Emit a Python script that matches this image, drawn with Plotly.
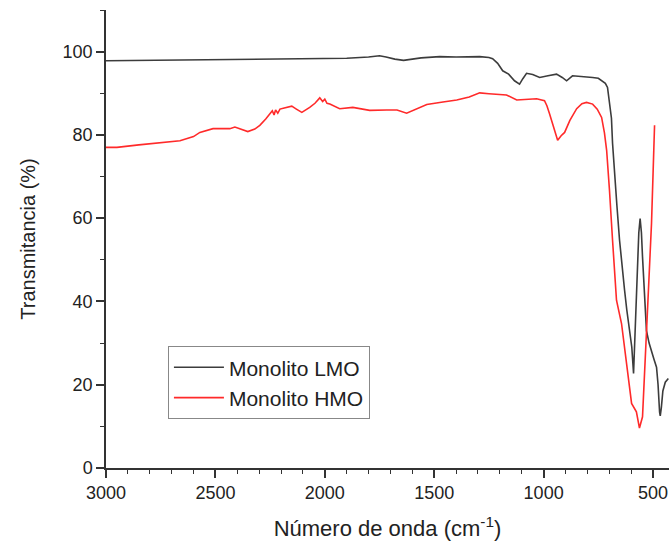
import plotly.graph_objects as go

# Monolito LMO (black)
lmo_x = [3000, 2850, 2700, 2500, 2300, 2150, 2000, 1900, 1800, 1750, 1720, 1680, 1640, 1600, 1560,
         1475, 1400, 1292, 1250, 1233, 1210, 1187, 1160, 1133, 1110, 1095, 1078, 1050, 1018, 980,
         941, 915, 895, 868, 830, 776, 750, 731, 718, 708, 699, 690, 685, 676, 665, 653, 640, 630,
         620, 607, 597, 589, 580, 571, 565, 559, 553, 548, 538, 530, 518, 507, 495, 484, 477, 470,
         467, 462, 455, 444, 430]
lmo_y = [97.8, 97.9, 98.0, 98.1, 98.3, 98.3, 98.5, 98.4, 98.7, 99.0, 98.7, 98.2, 97.9, 98.2, 98.5,
         98.8, 98.7, 98.8, 98.6, 98.3, 97.2, 95.4, 94.6, 93.0, 92.2, 93.5, 94.8, 94.5, 93.8, 94.2,
         94.6, 93.8, 93.0, 94.2, 94.1, 93.8, 93.6, 93.0, 92.4, 91.4, 88.0, 84.0, 78.0, 70.0, 63.0, 54.7, 47.0, 42.7,
         38.0, 33.1, 29.0, 22.7, 35.0, 50.7, 56.5, 59.9, 56.5, 50.7, 40.0, 33.0, 30.0, 27.8, 26.0, 24.2, 20.0, 13.4,
         12.5, 14.5, 18.5, 20.6, 21.5]

# Monolito HMO (red)
hmo_x = [3000, 2950, 2850, 2750, 2662, 2600, 2571, 2511, 2470, 2434, 2411, 2380, 2352, 2320, 2297,
         2270, 2251, 2240, 2232, 2225, 2215, 2205, 2190, 2151, 2130, 2105, 2069, 2045, 2023, 2010,
         2000, 1990, 1977, 1932, 1872, 1795, 1717, 1670, 1626, 1580, 1534, 1460, 1397, 1340, 1292,
         1250, 1215, 1170, 1123, 1080, 1032, 996, 985, 973, 955, 936, 920, 904, 880, 849, 825, 804,
         776, 755, 735, 722, 712, 708, 699, 685, 667, 644, 621, 598, 576, 562, 548, 534, 521, 507, 493]
hmo_y = [77.0, 77.0, 77.6, 78.1, 78.6, 79.6, 80.6, 81.5, 81.5, 81.5, 81.9, 81.4, 80.8, 81.4, 82.3,
         83.8, 84.9, 85.8, 84.8, 86.0, 85.2, 86.2, 86.4, 86.9, 86.2, 85.4, 86.6, 87.6, 88.9, 88.0,
         88.6, 87.6, 87.4, 86.3, 86.6, 85.9, 86.0, 86.0, 85.2, 86.3, 87.3, 87.9, 88.4, 89.1, 90.1,
         89.9, 89.7, 89.6, 88.4, 88.6, 88.7, 88.2, 87.0, 85.1, 82.0, 78.7, 79.8, 80.6, 83.5, 86.3, 87.5, 87.8,
         87.4, 86.2, 84.2, 80.5, 76.3, 73.9, 66.7, 54.7, 40.3, 34.7, 25.1, 15.5, 13.5, 9.6, 12.3, 26.7, 42.7, 58.7, 82.3]

x_ticks = [3000, 2500, 2000, 1500, 1000, 500]
y_ticks = [0, 20, 40, 60, 80, 100]

FONT = "Liberation Sans, Arial, sans-serif"

fig = go.Figure()
fig.add_trace(go.Scatter(x=lmo_x, y=lmo_y, mode="lines", name="Monolito LMO",
                         line=dict(color="#3c3c3c", width=1.6)))
fig.add_trace(go.Scatter(x=hmo_x, y=hmo_y, mode="lines", name="Monolito HMO",
                         line=dict(color="#ff2a2a", width=1.6)))

fig.update_layout(
    width=669, height=544,
    margin=dict(l=106, r=0, t=10, b=76),
    paper_bgcolor="white", plot_bgcolor="white",
    font=dict(family=FONT, color="#222222", size=18),
    showlegend=True,
    legend=dict(x=0.11, y=0.266, xanchor="left", yanchor="top",
                bordercolor="#888888", borderwidth=1, bgcolor="white",
                font=dict(size=21, color="#222222"), tracegroupgap=0,
                itemwidth=50),
    xaxis=dict(range=[3000, 427], tickvals=x_ticks, ticks="outside", ticklen=8, tickwidth=1.5,
               tickcolor="#333333", showline=True, linecolor="#333333", linewidth=1.5,
               showgrid=False, zeroline=False, automargin=False,
               minor=dict(dtick=100, ticks="outside", ticklen=4, tickcolor="#333333", tickwidth=1.2),
               tickfont=dict(size=18),
               title=dict(text="Número de onda (cm<sup>-1</sup>)", font=dict(size=22), standoff=18)),
    yaxis=dict(range=[0, 110], tickvals=y_ticks, ticks="outside", ticklen=8, tickwidth=1.5,
               tickcolor="#333333", showline=True, linecolor="#333333", linewidth=1.5,
               showgrid=False, zeroline=False, automargin=False,
               minor=dict(dtick=10, ticks="outside", ticklen=4, tickcolor="#333333", tickwidth=1.2),
               tickfont=dict(size=18),
               title=dict(text="Transmitancia (%)", font=dict(size=20), standoff=22)),
)

fig.write_html("out.html", config={"displayModeBar": False},
               post_script="document.body.style.margin='0';document.body.style.overflow='hidden';")
